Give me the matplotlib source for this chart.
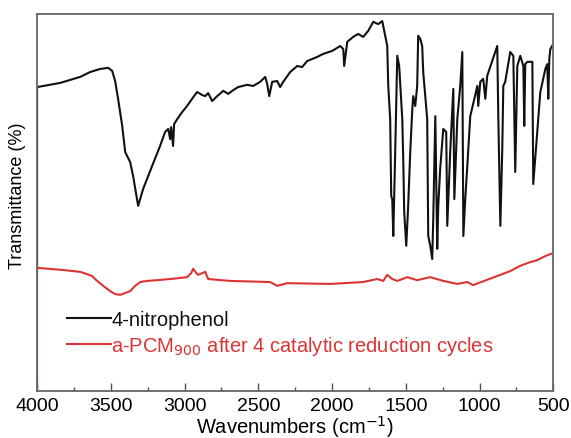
import matplotlib.pyplot as plt

plt.rcParams['font.family'] = ['Liberation Sans', 'DejaVu Sans']

# 4-nitrophenol spectrum (wavenumber, transmittance in arbitrary %)
nitro_w = [4000, 4000, 3844, 3708, 3640, 3573, 3518, 3491, 3471, 3451, 3423, 3403, 3369,
           3349, 3315, 3281, 3220, 3166, 3132, 3111, 3098, 3091, 3078, 3071, 3050, 3016,
           2983, 2949, 2915, 2881, 2860, 2840, 2813, 2779, 2738, 2704, 2670, 2637, 2576,
           2535, 2487, 2453, 2440, 2426, 2406, 2372, 2352, 2331, 2284, 2236, 2203, 2169,
           2101, 2060, 1999, 1945, 1924, 1918, 1897, 1857, 1823, 1789, 1755, 1721, 1687,
           1660, 1653, 1626, 1619, 1606, 1599,
           1592, 1585, 1572, 1558, 1545, 1524, 1517, 1511, 1497, 1484, 1470, 1457, 1450,
           1436, 1423, 1416, 1402, 1389, 1382, 1355, 1348, 1334, 1321, 1314, 1300, 1287,
           1280, 1267, 1246, 1226, 1219, 1199, 1178, 1171, 1151, 1131, 1117, 1110, 1097,
           1083, 1063, 1015, 1009, 995, 975, 961, 948, 894, 880, 873, 859, 846, 839, 826,
           792, 771, 758, 744, 724, 703, 697, 690, 676, 642, 636, 609, 588, 554, 541, 534,
           527, 520, 500]
nitro_t = [32.6, 80.6, 81.7, 83.3, 84.6, 85.4, 85.7, 84.9, 82.2, 77.5, 70.3, 63.4, 60.7,
           57.0, 49.1, 53.6, 59.7, 65.0, 68.7, 69.5, 66.8, 70.0, 65.0, 70.8, 72.1, 74.0,
           75.6, 77.5, 79.3, 78.5, 78.2, 79.0, 76.9, 78.2, 79.6, 78.8, 79.8, 80.6, 81.2,
           80.9, 82.0, 83.3, 81.4, 78.2, 82.0, 82.2, 80.6, 82.0, 84.6, 86.2, 85.9, 87.5,
           88.6, 89.4, 90.2, 91.5, 90.7, 86.2, 92.6, 93.9, 94.7, 93.9, 95.5, 97.9, 97.3,
           98.1, 96.8, 91.5, 80.9, 72.1, 51.7,
           50.9, 41.1, 63.4, 88.9, 86.2, 72.1, 60.7, 47.5, 38.5, 49.1, 63.4, 74.0, 78.2,
           75.6, 80.9, 94.2, 93.4, 91.5, 84.6, 72.1, 41.1, 38.5, 35.0, 45.6, 72.9, 37.7,
           49.1, 58.9, 69.5, 68.7, 43.8, 63.4, 80.1, 50.9, 72.1, 80.9, 89.9, 41.1, 50.9,
           59.7, 72.9, 80.9, 75.6, 82.0, 82.8, 77.5, 83.6, 89.9, 91.5, 72.9, 43.8, 64.2,
           80.9, 82.0, 89.9, 88.9, 58.1, 86.2, 88.9, 86.2, 70.3, 86.7, 87.3, 87.3, 54.9,
           68.7, 79.3, 85.4, 86.7, 77.5, 88.1, 90.7, 92.0]

# a-PCM900 after 4 catalytic reduction cycles
pcm_w = [4000, 4000, 3980, 3824, 3708, 3661, 3627, 3593, 3552, 3505, 3471, 3437, 3403,
         3369, 3335, 3301, 3254, 3186, 3098, 2982, 2955, 2942, 2921, 2908, 2860, 2840,
         2691, 2420, 2372, 2304, 2013, 1789, 1694, 1653, 1626, 1592, 1558, 1490, 1423,
         1334, 1246, 1151, 1083, 1043, 880, 792, 724, 656, 609, 554, 500]
pcm_t = [0.0, 32.6, 32.6, 32.1, 31.6, 31.0, 30.5, 29.2, 27.9, 26.5, 25.7, 25.5, 26.0,
         26.5, 27.9, 28.9, 29.2, 29.4, 29.7, 30.2, 31.3, 32.4, 31.3, 30.8, 31.6, 29.7,
         29.2, 28.9, 27.9, 28.6, 28.4, 28.9, 29.7, 29.2, 30.8, 29.7, 29.2, 30.2, 29.4,
         30.2, 29.2, 28.4, 28.9, 28.1, 30.5, 31.8, 33.2, 34.2, 34.7, 35.8, 36.6]

xticks = [4000, 3500, 3000, 2500, 2000, 1500, 1000, 500]
minor_ticks = [3750, 3250, 2750, 2250, 1750, 1250, 750]

fig = plt.figure(figsize=(5.71, 4.39), dpi=100)
ax = fig.add_axes([0.065, 0.107, 0.904, 0.859])

red = '#dd3333'
ax.plot(nitro_w, nitro_t, color='#111111', lw=1.5, label='4-nitrophenol')
ax.plot(pcm_w, pcm_t, color=red, lw=1.5,
        label='a-PCM$_{900}$ after 4 catalytic reduction cycles')

ax.set_xlim(4000, 500)
ax.set_ylim(0, 100)
ax.set_xticks(xticks)
ax.set_xticks(minor_ticks, minor=True)
ax.set_yticks([])
ax.tick_params(axis='x', which='major', direction='in', length=6, width=1,
               color='#555555', labelsize=14, pad=4)
ax.tick_params(axis='x', which='minor', direction='in', length=3, width=1,
               color='#555555')
for s in ax.spines.values():
    s.set_color('#666666')
    s.set_linewidth(1.3)

ax.set_xlabel('Wavenumbers (cm$^{-1}$)', fontsize=14.5, labelpad=0)
ax.set_ylabel('Transmittance (%)', fontsize=13)
ax.yaxis.set_label_coords(-0.022, 0.52)

ax.legend(loc='upper left', bbox_to_anchor=(0.058, 0.215), frameon=False,
          fontsize=14.5, handlelength=2.2, handletextpad=0.0, labelspacing=0.25,
          borderpad=0, borderaxespad=0, labelcolor='linecolor')

fig.savefig('out.png', dpi=100)
